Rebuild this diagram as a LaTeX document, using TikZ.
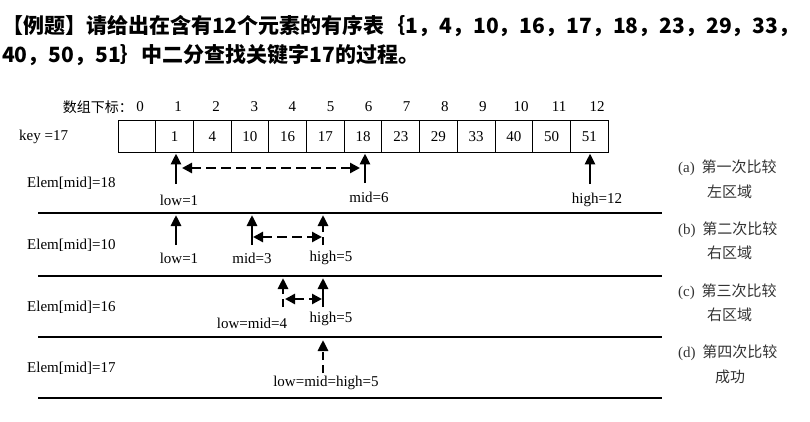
\documentclass[tikz,border=0pt]{standalone}
\usepackage{fontspec}
\setmainfont{Liberation Serif}
\newfontfamily\cjk{Noto Sans CJK SC}
\usetikzlibrary{arrows.meta}

\tikzset{
    cell/.style={draw, line width=1pt, minimum width=37.7pt, minimum height=32pt, inner sep=0pt, font=\fontsize{15}{15}\selectfont},
    ptr/.style={-{Triangle[length=11pt,width=10pt]}, line width=2.8pt},
    ptrd/.style={ptr, dash pattern=on 8pt off 5pt},
    rng/.style={{Triangle[length=10pt,width=10pt]}-{Triangle[length=10pt,width=10pt]}, line width=2.6pt, dash pattern=on 10pt off 5pt},
    lbl/.style={font=\fontsize{15}{15}\selectfont, inner sep=0pt},
    note/.style={font=\cjk\fontsize{15}{15}\selectfont, inner sep=0pt, anchor=west, text=black!80},
    rowline/.style={line width=1.6pt},
}

\begin{document}
\begin{tikzpicture}[x=1pt,y=-1pt]
            \useasboundingbox (0,0) rectangle (810,422);
            %题目
            \node[anchor=west, font=\cjk\bfseries\fontsize{21}{21}\selectfont, inner sep=0pt] (t1) at (2,26) {【例题】请给出在含有12个元素的有序表｛1，4，10，16，17，18，23，29，33，};
            \node[anchor=west, font=\cjk\bfseries\fontsize{21}{21}\selectfont, inner sep=0pt] (t2) at (2,55) {40，50，51｝中二分查找关键字17的过程。};

            %有序表
            \node[anchor=east, font=\cjk\fontsize{14}{14}\selectfont, inner sep=0pt] (hd) at (133,107) {数组下标：};
            \foreach \v [count=\i from 0] in {{},1,4,10,16,17,18,23,29,33,40,50,51}{
                \node[cell] (c\i) at ({136.85+37.7*\i},137) {\v};
                \node[lbl] (i\i) at ({140+38.1*\i},107) {\i};
            }
            \node[lbl, anchor=west] (key) at (19,137) {key =17};

            %第一次比较
            \node[lbl, anchor=west] (e1) at (27,183) {Elem[mid]=18};
            \coordinate (l1) at (176,184);
            \coordinate (m1) at (365,183);
            \coordinate (h1) at (590,184);
            \draw[ptr] (l1) -- (l1 |- c1.south);
            \draw[ptr] (m1) -- (m1 |- c6.south);
            \draw[ptr] (h1) -- (h1 |- c12.south);
            \coordinate (r1a) at (182,168);
            \coordinate (r1b) at (360,168);
            \draw[rng] (r1a) -- (r1b);
            \node[lbl] (lo1) at (179,200) {low=1};
            \node[lbl] (mi1) at (369,197) {mid=6};
            \node[lbl] (hi1) at (597,200) {high=12};
            \draw[rowline] (38,213) -- (662,213);

            %第二次比较
            \node[lbl, anchor=west] (e2) at (27,245) {Elem[mid]=10};
            \coordinate (l2) at (176,245);
            \coordinate (l2t) at (176,215);
            \coordinate (m2) at (252,245);
            \coordinate (m2t) at (252,215);
            \coordinate (h2) at (323,245);
            \coordinate (h2t) at (323,215);
            \draw[ptr] (l2) -- (l2t);
            \draw[ptr] (m2) -- (m2t);
            \draw[ptrd] (h2) -- (h2t);
            \coordinate (r2a) at (253,237);
            \coordinate (r2b) at (322,237);
            \draw[rng] (r2a) -- (r2b);
            \node[lbl] (lo2) at (179,258) {low=1};
            \node[lbl] (mi2) at (252,258) {mid=3};
            \node[lbl] (hi2) at (331,258) {high=5};
            \draw[rowline] (38,276) -- (662,276);

            %第三次比较
            \node[lbl, anchor=west] (e3) at (27,307) {Elem[mid]=16};
            \coordinate (l3) at (283,307);
            \coordinate (l3t) at (283,278);
            \coordinate (h3) at (323,307);
            \coordinate (h3t) at (323,278);
            \draw[ptrd] (l3) -- (l3t);
            \draw[ptr] (h3) -- (h3t);
            \coordinate (r3a) at (285,299);
            \coordinate (r3b) at (322,299);
            \draw[rng] (r3a) -- (r3b);
            \node[lbl] (lo3) at (252,323) {low=mid=4};
            \node[lbl] (hi3) at (331,319) {high=5};
            \draw[rowline] (38,337) -- (662,337);

            %第四次比较
            \node[lbl, anchor=west] (e4) at (27,368) {Elem[mid]=17};
            \coordinate (l4) at (323,373);
            \coordinate (l4t) at (323,340);
            \draw[ptrd] (l4) -- (l4t);
            \node[lbl] (lo4) at (326,383) {low=mid=high=5};
            \draw[rowline] (38,398) -- (662,398);

            %说明
            \node[note] (na) at (678,168) {{\fontspec{Liberation Serif}(a)}\ \ 第一次比较};
            \node[note] (na2) at (707,192) {左区域};
            \node[note] (nb) at (678,230) {{\fontspec{Liberation Serif}(b)}\ \ 第二次比较};
            \node[note] (nb2) at (707,253) {右区域};
            \node[note] (nc) at (678,292) {{\fontspec{Liberation Serif}(c)}\ \ 第三次比较};
            \node[note] (nc2) at (707,315) {右区域};
            \node[note] (nd) at (678,353) {{\fontspec{Liberation Serif}(d)}\ \ 第四次比较};
            \node[note] (nd2) at (715,377) {成功};
        \end{tikzpicture}
\end{document}
